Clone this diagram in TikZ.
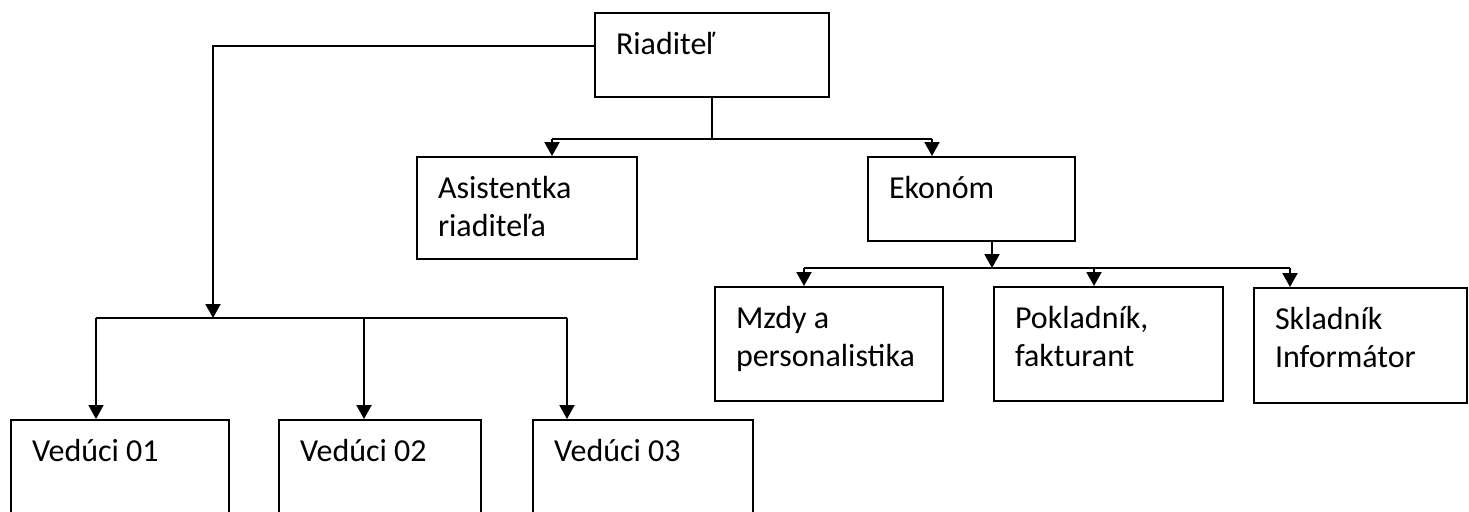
\documentclass[tikz,border=0pt]{standalone}
\usepackage{fontspec}
\setmainfont{Carlito}
\usepackage{tikz}
\usetikzlibrary{calc,arrows.meta}
\def\orgtext#1#2#3{\parbox[t][#2][t]{#1}{\leftskip=10.5pt\rule{0pt}{20.5pt}#3}}
\tikzset{
	orgbox/.style={draw, line width=1pt, inner sep=0pt, anchor=north west, font=\fontsize{16}{19}\selectfont},
	link/.style={line width=1pt},
	arr/.style={link, -{Triangle[length=7pt,width=7.5pt]}}
}

\begin{document}
\begin{tikzpicture}[x=0.5pt, y=-0.5pt]
		%%%%% START %%%%%
		\useasboundingbox (0, 0) rectangle (1469, 511);
		\clip (0, 0) rectangle (1469, 511);
		
		\node[orgbox] (rd) at (594, 12) {\orgtext{117pt}{42pt}{Riaditeľ}};
		\node[orgbox] (as) at (416, 156) {\orgtext{110pt}{51pt}{Asistentka\\riaditeľa}};
		\node[orgbox] (ek) at (867, 156) {\orgtext{103.5pt}{42pt}{Ekonóm}};
		
		\node[orgbox] (mz) at (714, 286) {\orgtext{114pt}{57pt}{Mzdy a\\personalistika}};
		\node[orgbox] (pk) at (993, 286) {\orgtext{114.5pt}{57pt}{Pokladník,\\fakturant}};
		\node[orgbox] (sk) at (1253, 287) {\orgtext{106.5pt}{57.5pt}{Skladník\\Informátor}};
		
		\node[orgbox] (v1) at (10, 419) {\orgtext{109pt}{50pt}{Vedúci 01}};
		\node[orgbox] (v2) at (278, 419) {\orgtext{101pt}{50pt}{Vedúci 02}};
		\node[orgbox] (v3) at (532, 419) {\orgtext{110pt}{50pt}{Vedúci 03}};
		
		% riaditel -> veduci
		\coordinate (vbus) at (213, 318);
		\coordinate (vl) at (96, 318);
		\coordinate (vm) at (364, 318);
		\coordinate (vr) at (567, 318);
		\draw[arr] ($(rd.north west)!0.4!(rd.south west)$) -| (vbus);
		\draw[link] (vl) -- (vr);
		\draw[arr] (vl) -- (vl |- v1.north);
		\draw[arr] (vm) -- (vm |- v2.north);
		\draw[arr] (vr) -- (vr |- v3.north);
		
		% riaditel -> asistentka, ekonom
		\coordinate (al) at (552, 139);
		\coordinate (ar) at (932, 139);
		\draw[link] (rd.south) -- (rd.south |- al);
		\draw[link] (al) -- (ar);
		\draw[arr] (al) -- (al |- as.north);
		\draw[arr] (ar) -- (ar |- ek.north);
		
		% ekonom -> oddelenia
		\coordinate (eb) at (992, 268);
		\coordinate (el) at (804, 268);
		\coordinate (em) at (1094, 268);
		\coordinate (er) at (1290, 268);
		\draw[arr] (ek.south -| eb) -- (eb);
		\draw[link] (el) -- (er);
		\draw[arr] (el) -- (el |- mz.north);
		\draw[arr] (em) -- (em |- pk.north);
		\draw[arr] (er) -- (er |- sk.north);
		
		%%%%% END %%%%%
	\end{tikzpicture}
\end{document}
